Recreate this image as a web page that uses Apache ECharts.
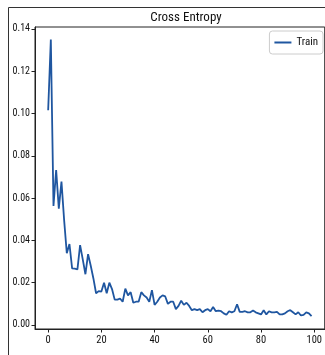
<!DOCTYPE html>
<html><head><meta charset="utf-8">
<script src="https://cdn.jsdelivr.net/npm/echarts@6/dist/echarts.min.js"></script>
<style>html,body{margin:0;padding:0;background:#fff}#c{width:325px;height:355px}</style>
</head><body><div id="c"></div>
<script>
const titleText = 'Cross Entropy';
const seriesName = 'Train';
const epochs = Array.from({length: 100}, (_, i) => i);
const trainLoss = [
 0.1015,0.1350,0.0563,0.0733,0.0550,0.0678,0.0496,0.0339,0.0383,0.0268,
 0.0266,0.0263,0.0378,0.0310,0.0240,0.0335,0.0280,0.0220,0.0150,0.0160,
 0.0158,0.0200,0.0150,0.0200,0.0170,0.0120,0.0120,0.0125,0.0110,0.0172,
 0.0140,0.0155,0.0105,0.0110,0.0110,0.0155,0.0140,0.0130,0.0110,0.0165,
 0.0095,0.0110,0.0130,0.0140,0.0135,0.0100,0.0110,0.0110,0.0075,0.0090,
 0.0115,0.0095,0.0105,0.0090,0.0070,0.0075,0.0070,0.0075,0.0060,0.0070,
 0.0075,0.0065,0.0085,0.0065,0.0068,0.0065,0.0055,0.0048,0.0065,0.0060,
 0.0065,0.0098,0.0062,0.0062,0.0065,0.0060,0.0060,0.0068,0.0060,0.0055,
 0.0050,0.0070,0.0050,0.0065,0.0060,0.0060,0.0062,0.0050,0.0050,0.0055,
 0.0065,0.0070,0.0060,0.0050,0.0060,0.0045,0.0048,0.0060,0.0055,0.0042
];
const xTicks = [0, 20, 40, 60, 80, 100];
const yTicks = [0, 0.02, 0.04, 0.06, 0.08, 0.10, 0.12, 0.14];

const FONT = "'Liberation Sans Narrow', 'Roboto Condensed', 'DejaVu Sans Condensed', Roboto, sans-serif";
const chart = echarts.init(document.getElementById('c'), null, {renderer: 'canvas'});
chart.setOption({
  animation: false,
  backgroundColor: '#fff',
  title: {
    text: titleText, left: 181, top: 6, textAlign: 'center',
    textStyle: {fontFamily: FONT, fontSize: 13, fontWeight: 'normal', color: '#111'}
  },
  legend: {
    data: [seriesName], right: 2, top: 31,
    padding: [6, 5, 6, 5], itemWidth: 17, itemHeight: 2, itemGap: 6,
    borderColor: '#ccc', borderWidth: 1, borderRadius: 3,
    icon: 'rect',
    textStyle: {fontFamily: FONT, fontSize: 11, color: '#111'}
  },
  graphic: [{
    type: 'polyline', silent: true,
    shape: {points: [[8.5, 360], [8.5, 7.5], [330, 7.5]]},
    style: {stroke: '#333', lineWidth: 1, fill: null}
  }],
  grid: {left: 35, top: 27, width: 291, height: 302, show: true, borderColor: '#222', borderWidth: 1, containLabel: false},
  xAxis: {
    type: 'value', min: -4.95, max: 103.95,
    axisLine: {show: true, onZero: false, lineStyle: {color: '#222', width: 1}},
    axisTick: {show: true, length: 3.5, customValues: xTicks, lineStyle: {color: '#222'}},
    axisLabel: {customValues: xTicks, fontFamily: FONT, fontSize: 10.5, color: '#111', margin: 6},
    splitLine: {show: false}
  },
  yAxis: {
    type: 'value', min: -0.0019, max: 0.1409,
    axisLine: {show: true, onZero: false, lineStyle: {color: '#222', width: 1}},
    axisTick: {show: true, length: 3.5, customValues: yTicks, lineStyle: {color: '#222'}},
    axisLabel: {customValues: yTicks, fontFamily: FONT, fontSize: 10, color: '#111', margin: 5,
      formatter: v => v.toFixed(2)},
    splitLine: {show: false}
  },
  series: [{
    name: seriesName, type: 'line', showSymbol: false,
    data: epochs.map((e, i) => [e, trainLoss[i]]),
    lineStyle: {color: '#1f56a0', width: 1.8},
    itemStyle: {color: '#1f56a0'}
  }]
});
</script></body></html>
